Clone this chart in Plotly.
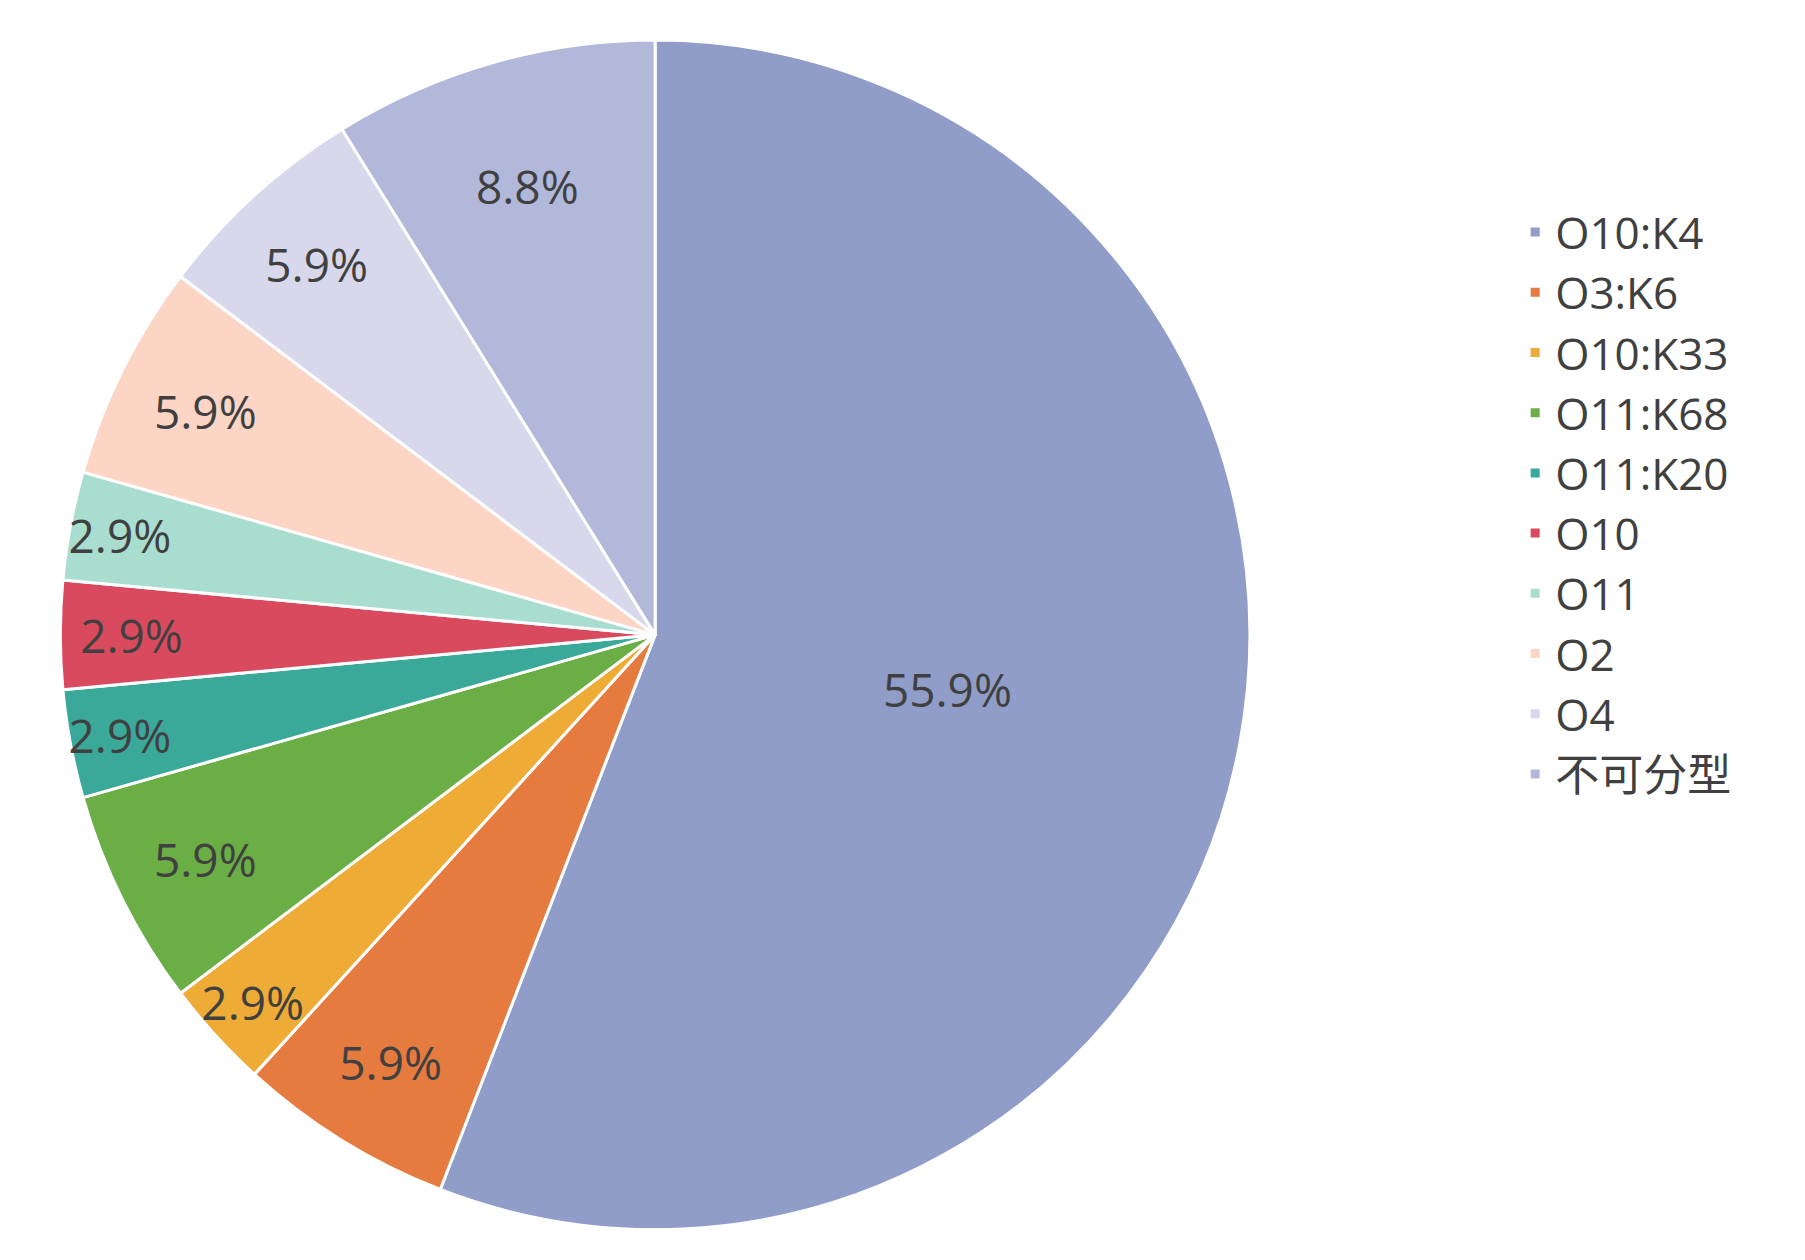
import plotly.graph_objects as go

labels = ["O10:K4", "O3:K6", "O10:K33", "O11:K68", "O11:K20", "O10", "O11", "O2", "O4", "不可分型"]
counts = [19, 2, 1, 2, 1, 1, 1, 2, 2, 3]
colors = ["#8f9dc8", "#e57b3f", "#eeab35", "#6aae45", "#3aa99a",
          "#d94a5e", "#a8ddcf", "#fcd5c5", "#d7d8eb", "#b2b8da"]

fig = go.Figure(go.Pie(
    labels=labels, values=counts, sort=False, direction="clockwise", rotation=0,
    marker=dict(colors=colors, line=dict(color="white", width=3)),
    textinfo="percent", texttemplate="%{percent:.1%}", textposition="inside",
    insidetextorientation="horizontal",
    textfont=dict(size=46, color="#404040", family="Open Sans"),
    domain=dict(x=[0.029, 0.688], y=[0.03, 0.975]),
))

fig.update_layout(
    width=1805, height=1260, paper_bgcolor="white",
    margin=dict(l=0, r=0, t=0, b=0),
    legend=dict(x=0.835, y=0.85, xanchor="left", yanchor="top",
                font=dict(size=44, color="#404040", family="Open Sans, Noto Sans CJK SC"),
                itemwidth=30, tracegroupgap=0),
    uniformtext=dict(minsize=46, mode="show"),
)

fig.write_html("out.html")
